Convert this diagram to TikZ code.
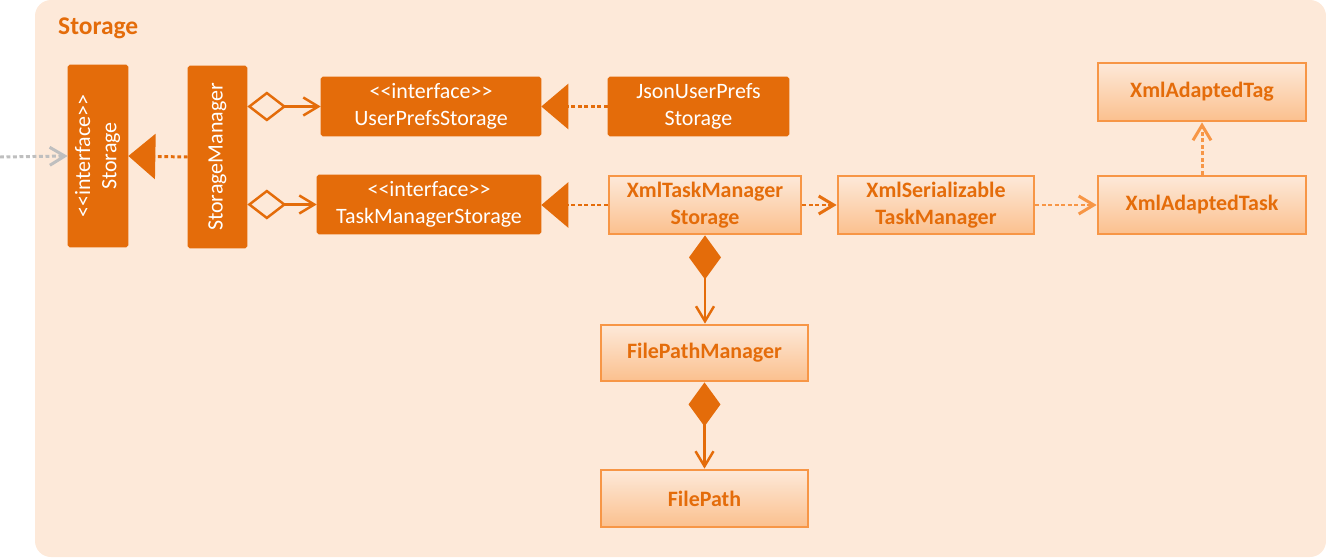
\documentclass[tikz,border=0pt]{standalone}
\usepackage{fontspec}
\setmainfont{Carlito}
\usetikzlibrary{arrows.meta}
\definecolor{darkor}{HTML}{E46C0A}
\definecolor{lightor}{HTML}{F79646}
\definecolor{bgor}{HTML}{FDE9D9}
\definecolor{shadeor}{HTML}{FBC08E}
\definecolor{extgray}{HTML}{BFBFBF}
\newcommand{\stereo}{{<}{<}interface{>}{>}}
\tikzset{
    iface/.style={draw=darkor, fill=darkor, text=white, rounded corners=1pt,
        align=center, inner sep=0pt, font=\fontsize{12.5}{15}\selectfont},
    impl/.style={draw=lightor, line width=1.6pt, top color=bgor, bottom color=shadeor,
        text=darkor, align=center, inner sep=0pt, font=\fontsize{12.5}{15}\selectfont\bfseries},
    realize/.style={darkor, line width=1.7pt, dash pattern=on 2.2pt off 1.5pt,
        -{Triangle[length=0.54cm,width=0.9cm]}},
    depend/.style={line width=1.7pt, dash pattern=on 2.2pt off 1.5pt,
        -{Straight Barb[length=0.3cm,width=0.36cm]}},
    aggr/.style={darkor, line width=1.4pt,
        {Diamond[open,length=0.78cm,width=0.6cm]}-{Straight Barb[length=0.3cm,width=0.36cm]}},
    compo/.style={darkor, line width=1.4pt,
        {Diamond[length=0.88cm,width=0.64cm]}-{Straight Barb[length=0.3cm,width=0.36cm]}},
}
\begin{document}
\begin{tikzpicture}[x=0.02cm, y=-0.02cm]
    \useasboundingbox (0,0) rectangle (1326,558);
    \fill[bgor, rounded corners=0.32cm] (35,0) rectangle (1326,557);
    \node[anchor=west, text=darkor, font=\fontsize{14.5}{17}\selectfont\bfseries] (title) at (52,28) {Storage};

    % interfaces and manager
    \node[iface, minimum width=1.2cm, minimum height=3.64cm] (stor) at (98,156)
        {\rotatebox{90}{\begin{tabular}{@{}c@{}}\stereo\\Storage\end{tabular}}};
    \node[iface, minimum width=1.18cm, minimum height=3.64cm] (mgr) at (217.5,157)
        {\rotatebox{90}{StorageManager}};
    \node[iface, minimum width=4.4cm, minimum height=1.18cm] (upsI) at (431,106.5)
        {\stereo\\UserPrefsStorage};
    \node[iface, minimum width=3.62cm, minimum height=1.18cm] (jsonUps) at (698.5,106.5)
        {JsonUserPrefs\\Storage};
    \node[iface, minimum width=4.48cm, minimum height=1.18cm] (tmsI) at (429,204.5)
        {\stereo\\TaskManagerStorage};

    % xml classes
    \node[impl, minimum width=3.84cm, minimum height=1.16cm] (xmlTms) at (705,205)
        {XmlTaskManager\\Storage};
    \node[impl, minimum width=3.92cm, minimum height=1.16cm] (xmlSer) at (936,205)
        {XmlSerializable\\TaskManager};
    \node[impl, minimum width=4.16cm, minimum height=1.16cm] (xmlTask) at (1202,205)
        {XmlAdaptedTask};
    \node[impl, minimum width=4.16cm, minimum height=1.16cm] (xmlTag) at (1202,92)
        {XmlAdaptedTag};
    \node[impl, minimum width=4.14cm, minimum height=1.12cm] (fpMgr) at (704.5,353)
        {FilePathManager};
    \node[impl, minimum width=4.14cm, minimum height=1.14cm] (fp) at (704.5,498.5)
        {FilePath};

    % connectors
    \coordinate (ext) at (0,157);
    \draw[depend, extgray] (ext) -- (stor.west);
    \draw[realize] (mgr.west) -- (stor.east);
    \draw[aggr] (mgr.east |- upsI.west) -- (upsI.west);
    \draw[aggr] (mgr.east |- tmsI.west) -- (tmsI.west);
    \draw[realize] (jsonUps.west) -- (upsI.east);
    \draw[realize] (xmlTms.west) -- (tmsI.east |- xmlTms.west);
    \draw[depend, darkor!90!lightor] (xmlTms.east) -- (xmlSer.west);
    \draw[depend, lightor] (xmlSer.east) -- (xmlTask.west);
    \draw[depend, lightor] (xmlTask.north) -- (xmlTag.south);
    \draw[compo] (xmlTms.south) -- (xmlTms.south |- fpMgr.north);
    \draw[compo] (fpMgr.south) -- (fp.north);
\end{tikzpicture}
\end{document}
